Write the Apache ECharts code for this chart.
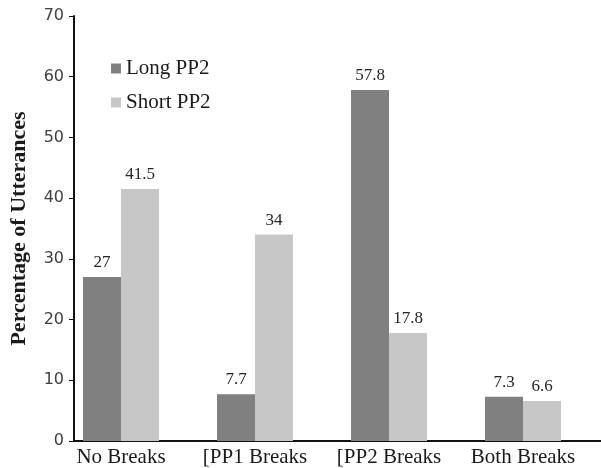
<!DOCTYPE html>
<html>
<head>
<meta charset="utf-8">
<script src="https://cdn.jsdelivr.net/npm/echarts@6/dist/echarts.min.js"></script>
<style>html,body{margin:0;padding:0;background:#fff}#c{width:601px;height:468px}</style>
</head>
<body>
<div id="c"></div>
<script>
var categories = ['No Breaks', '[PP1 Breaks', '[PP2 Breaks', 'Both Breaks'];
var longPP2 = [27, 7.7, 57.8, 7.3];
var shortPP2 = [41.5, 34, 17.8, 6.6];
var yTicks = { min: 0, max: 70, interval: 10 };

var serif = '"Liberation Serif", "Times New Roman", serif';
var chart = echarts.init(document.getElementById('c'));
var labelStyle = { show: true, position: 'top', distance: 6, fontFamily: serif, fontSize: 17, color: '#262626' };
chart.setOption({
  animation: false,
  backgroundColor: '#fff',
  legend: {
    orient: 'vertical', left: 106, top: 53, itemWidth: 10, itemHeight: 10, itemGap: 13,
    icon: 'rect',
    textStyle: { fontFamily: serif, fontSize: 21, color: '#1a1a1a', padding: [0, 0, 0, 0] },
    data: ['Long PP2', 'Short PP2']
  },
  grid: [
    { left: 54, right: 11, top: 16, bottom: 27 },
    { left: 72, right: 0, top: 16, bottom: 27 }
  ],
  xAxis: [
    { type: 'category', gridIndex: 0, data: categories,
      axisLine: { show: false }, axisTick: { show: false },
      axisLabel: { interval: 0, margin: 6, fontFamily: serif, fontSize: 21, color: '#1a1a1a' } },
    { type: 'value', gridIndex: 1, min: 0, max: 1,
      axisLine: { show: true, lineStyle: { color: '#111', width: 2 } },
      axisTick: { show: false }, axisLabel: { show: false }, splitLine: { show: false } }
  ],
  yAxis: [
    { type: 'value', gridIndex: 0, min: yTicks.min, max: yTicks.max, interval: yTicks.interval, show: false },
    { type: 'value', gridIndex: 1, min: yTicks.min, max: yTicks.max, interval: yTicks.interval,
      name: 'Percentage of Utterances', nameLocation: 'middle', nameGap: 44, nameRotate: 90,
      nameTextStyle: { fontFamily: serif, fontSize: 22, fontWeight: 'bold', color: '#1a1a1a' },
      axisLine: { show: true, lineStyle: { color: '#111', width: 2 } },
      axisTick: { show: true, length: 5, lineStyle: { color: '#111', width: 1 } },
      axisLabel: { margin: 10, fontFamily: '"DejaVu Sans", sans-serif', fontSize: 16, color: '#404040' },
      splitLine: { show: false } }
  ],
  series: [
    { name: 'Long PP2', type: 'bar', xAxisIndex: 0, yAxisIndex: 0, data: longPP2,
      barWidth: 38, barGap: '0%', itemStyle: { color: '#808080' }, label: labelStyle },
    { name: 'Short PP2', type: 'bar', xAxisIndex: 0, yAxisIndex: 0, data: shortPP2,
      barWidth: 38, barGap: '0%', itemStyle: { color: '#c6c7c6' }, label: labelStyle }
  ]
});
</script>
</body>
</html>
